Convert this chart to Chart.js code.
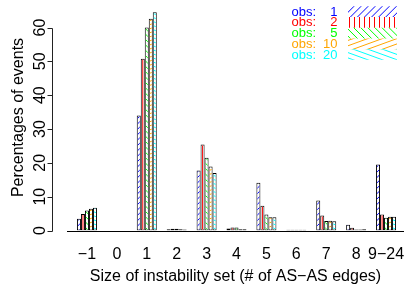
<!DOCTYPE html>
<html>
<head>
<meta charset="utf-8">
<script src="https://cdn.jsdelivr.net/npm/chart.js@4.4.1/dist/chart.umd.min.js"></script>
<style>
html,body{margin:0;padding:0;background:#fff;}
#c{display:block;}
</style>
</head>
<body>
<canvas id="c" width="404" height="290"></canvas>
<script>
// ---- data ----
const categories = ['\u22121','0','1','2','3','4','5','6','7','8','9\u221224'];
const seriesNames = ['1','2','5','10','20'];
const obs1  = [3.5, 0, 34.0, 0.4, 17.7, 0.6, 14.1, 0.2, 8.9, 1.7, 19.5];
const obs2  = [4.9, 0, 50.8, 0.5, 25.4, 0.9,  7.3, 0.2, 4.4, 0.8,  4.7];
const obs5  = [5.9, 0, 60.0, 0.5, 21.5, 0.9,  4.7, 0.2, 2.8, 0.3,  3.8];
const obs10 = [6.4, 0, 62.6, 0.4, 18.9, 0.4,  3.9, 0.2, 2.9, 0.3,  4.1];
const obs20 = [6.7, 0, 64.5, 0.3, 17.0, 0.4,  3.9, 0.2, 2.7, 0.4,  4.1];
const yTicks = [0, 10, 20, 30, 40, 50, 60];
const xTitle = 'Size of instability set (# of AS\u2212AS edges)';
const yTitle = 'Percentages of events';

// ---- styles ----
const colors = ['#0000FF', '#FF0000', '#00FF00', '#FFA500', '#00FFFF'];
const hatchAngles = [45, 90, 135, 20, 160];
const LEGEND_HATCH_SPACING = 5;
const BAR_HATCH_SPACING = 3.8;
const FONT = '"Liberation Sans", Arial, Helvetica, sans-serif';

function hatch(ctx, x0, y0, x1, y1, angleDeg, spacing, color) {
  if (x1 - x0 <= 0 || y1 - y0 <= 0) return;
  ctx.save();
  ctx.beginPath(); ctx.rect(x0, y0, x1 - x0, y1 - y0); ctx.clip();
  const a = angleDeg * Math.PI / 180;
  const dx = Math.cos(a), dy = -Math.sin(a);
  const nx = -dy, ny = dx;
  const ox = x0 - 0.5, oy = y1;
  const corners = [[x0,y0],[x1,y0],[x0,y1],[x1,y1]];
  let mn = Infinity, mx = -Infinity;
  for (const [cx, cy] of corners) {
    const p = (cx - ox) * nx + (cy - oy) * ny;
    mn = Math.min(mn, p); mx = Math.max(mx, p);
  }
  const L = Math.hypot(x1 - x0, y1 - y0) + 10;
  const cx = (x0 + x1) / 2, cy = (y0 + y1) / 2;
  ctx.strokeStyle = color; ctx.lineWidth = 1;
  ctx.beginPath();
  const off = spacing * 0.4;
  for (let k = Math.floor((mn - off) / spacing) - 1; k * spacing + off <= mx + spacing; k++) {
    const d = k * spacing + off;
    const px = ox + nx * d, py = oy + ny * d;
    const t = (cx - px) * dx + (cy - py) * dy;
    const qx = px + dx * t, qy = py + dy * t;
    ctx.moveTo(qx - dx * L, qy - dy * L);
    ctx.lineTo(qx + dx * L, qy + dy * L);
  }
  ctx.stroke();
  ctx.restore();
}

const seriesData = [obs1, obs2, obs5, obs10, obs20];
const datasets = seriesData.map((d, i) => ({
  label: 'obs: ' + seriesNames[i],
  data: d,
  backgroundColor: '#ffffff',
  borderColor: '#000000',
  borderWidth: 1,
  borderSkipped: false,
  categoryPercentage: 0.669,
  barPercentage: 1.0
}));

const decor = {
  id: 'decor',
  afterDatasetsDraw(chart) {
    const ctx = chart.ctx;
    const xs = chart.scales.x, ys = chart.scales.y;
    // hatching inside bars
    chart.data.datasets.forEach((ds, i) => {
      const meta = chart.getDatasetMeta(i);
      meta.data.forEach(el => {
        const p = el.getProps(['x','y','base','width'], true);
        const left = p.x - p.width / 2, right = p.x + p.width / 2;
        const top = Math.min(p.y, p.base), bottom = Math.max(p.y, p.base);
        hatch(ctx, left + 1, top + 1, right - 1, bottom - 1, hatchAngles[i], BAR_HATCH_SPACING, colors[i]);
      });
    });
    const y0 = Math.round(ys.getPixelForValue(0)) + 0.5;
    // baseline
    ctx.save();
    ctx.strokeStyle = '#000'; ctx.lineWidth = 1;
    ctx.beginPath(); ctx.moveTo(67, y0); ctx.lineTo(404, y0); ctx.stroke();
    // y axis
    const ax = 52.5;
    ctx.strokeStyle = '#222';
    ctx.beginPath();
    ctx.moveTo(ax, Math.round(ys.getPixelForValue(yTicks[0])) + 0.5);
    ctx.lineTo(ax, Math.round(ys.getPixelForValue(yTicks[yTicks.length - 1])) + 0.5);
    yTicks.forEach(v => {
      const py = Math.round(ys.getPixelForValue(v)) + 0.5;
      ctx.moveTo(ax, py); ctx.lineTo(ax - 5, py);
    });
    ctx.stroke();
    // y tick labels (rotated)
    ctx.fillStyle = '#000';
    ctx.font = '16px ' + FONT;
    ctx.textAlign = 'center';
    ctx.textBaseline = 'alphabetic';
    yTicks.forEach(v => {
      const py = ys.getPixelForValue(v);
      ctx.save();
      ctx.translate(45, py);
      ctx.rotate(-Math.PI / 2);
      ctx.fillText(String(v), 0, 0);
      ctx.restore();
    });
    // y title
    ctx.save();
    ctx.translate(23, 117.5);
    ctx.rotate(-Math.PI / 2);
    ctx.fillText(yTitle, 0, 0);
    ctx.restore();
    // x labels
    categories.forEach((c, i) => {
      ctx.fillText(c, xs.getPixelForValue(i), 258.5);
    });
    // x title
    ctx.fillText(xTitle, 235.5, 281);
    // legend
    const rowH = 10.7, firstY = 11.7;
    chart.data.datasets.forEach((ds, i) => {
      const cy = firstY + rowH * i;
      ctx.font = '13px ' + FONT;
      ctx.fillStyle = colors[i];
      ctx.textBaseline = 'middle';
      ctx.textAlign = 'left';
      ctx.fillText('obs:', 291.5, cy + 0.5);
      ctx.textAlign = 'right';
      ctx.fillText(seriesNames[i], 337.5, cy + 0.5);
      hatch(ctx, 348, cy - rowH / 2, 397, cy + rowH / 2, hatchAngles[i], LEGEND_HATCH_SPACING, colors[i]);
    });
    ctx.restore();
  }
};

new Chart(document.getElementById('c'), {
  type: 'bar',
  data: { labels: categories, datasets },
  options: {
    responsive: false,
    animation: false,
    devicePixelRatio: 1,
    layout: { padding: { left: 72, right: 3, top: 7.2, bottom: 59.5 } },
    plugins: { legend: { display: false }, tooltip: { enabled: false } },
    scales: {
      x: { display: false, offset: true },
      y: { display: false, min: 0, max: 66 }
    }
  },
  plugins: [decor]
});
</script>
</body>
</html>
